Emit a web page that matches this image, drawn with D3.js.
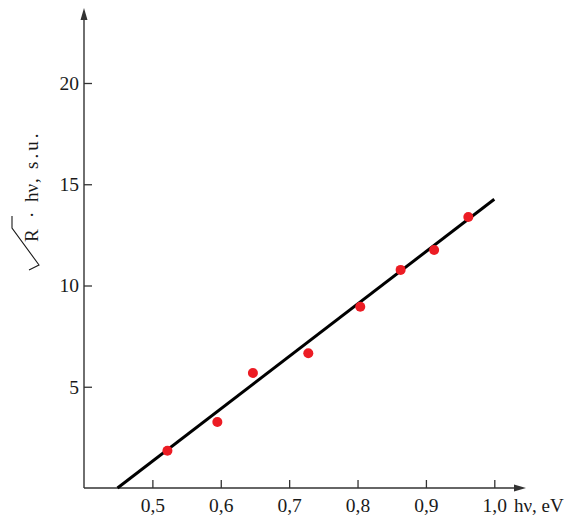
<!DOCTYPE html>
<html>
<head>
<meta charset="utf-8">
<script src="https://cdnjs.cloudflare.com/ajax/libs/d3/7.8.5/d3.min.js"></script>
<style>
  body { margin: 0; background: #fff; }
  svg { display: block; }
</style>
</head>
<body>
<svg width="572" height="522"></svg>
<script>
// Measured points (photon energy, sqrt(R)*hv)
let hvValues = [0.522, 0.595, 0.647, 0.728, 0.804, 0.863, 0.912, 0.962];
let rValues = [1.84, 3.26, 5.68, 6.65, 8.95, 10.77, 11.75, 13.38];

// Linear fit endpoints
let fitX = [0.449, 1.0];
let fitY = [0, 14.26];

// Tick values and labels
let xTicks = [0.5, 0.6, 0.7, 0.8, 0.9, 1.0];
let xTickLabels = ['0,5', '0,6', '0,7', '0,8', '0,9', '1,0'];
let yTicks = [5, 10, 15, 20];
let yTickLabels = ['5', '10', '15', '20'];

let svg = d3.select('svg');
let font = '"Liberation Serif", "Times New Roman", serif';
let axisColor = '#333';
let textColor = '#1a1a1a';

let x = d3.scaleLinear().domain([0.4, 1.0]).range([84, 494.3]);
let y = d3.scaleLinear().domain([0, 20]).range([488, 83]);

// Axis lines with arrow heads
svg.append('line')
    .attr('x1', x(0.4)).attr('y1', y(0))
    .attr('x2', 518).attr('y2', y(0))
    .attr('stroke', axisColor).attr('stroke-width', 1.4);
svg.append('path')
    .attr('d', 'M526,' + y(0) + 'L514,' + (y(0) - 3.5) + 'L514,' + (y(0) + 3.5) + 'Z')
    .attr('fill', axisColor);

svg.append('line')
    .attr('x1', x(0.4)).attr('y1', y(0))
    .attr('x2', x(0.4)).attr('y2', 18)
    .attr('stroke', axisColor).attr('stroke-width', 1.4);
svg.append('path')
    .attr('d', 'M' + x(0.4) + ',8L' + (x(0.4) - 3.5) + ',20L' + (x(0.4) + 3.5) + ',20Z')
    .attr('fill', axisColor);

// Ticks point inward
let xAxis = svg.append('g')
    .attr('transform', 'translate(0,' + y(0) + ')')
    .call(d3.axisBottom(x).tickValues(xTicks).tickSizeInner(-8).tickSizeOuter(0).tickPadding(10)
        .tickFormat((d, i) => xTickLabels[i]));

let yAxis = svg.append('g')
    .attr('transform', 'translate(' + x(0.4) + ',0)')
    .call(d3.axisLeft(y).tickValues(yTicks).tickSizeInner(-8).tickSizeOuter(0).tickPadding(5)
        .tickFormat((d, i) => yTickLabels[i]));

[xAxis, yAxis].forEach(g => {
    g.select('.domain').remove();
    g.selectAll('line').attr('stroke', axisColor).attr('stroke-width', 1.3);
    g.selectAll('text')
        .attr('fill', textColor)
        .style('font-family', font)
        .style('font-size', '19.5px');
});

// Fit line
let line = d3.line()
    .x((d, i) => x(fitX[i]))
    .y((d, i) => y(fitY[i]));
svg.append('path')
    .datum(fitX)
    .attr('d', line)
    .attr('fill', 'none')
    .attr('stroke', '#000')
    .attr('stroke-width', 3);

// Data points
svg.selectAll('circle.pt')
    .data(hvValues)
    .enter().append('circle')
    .attr('class', 'pt')
    .attr('cx', d => x(d))
    .attr('cy', (d, i) => y(rValues[i]))
    .attr('r', 5)
    .attr('fill', '#ec1c24');

// Axis labels
svg.append('text')
    .attr('x', 514)
    .attr('y', 512)
    .attr('fill', textColor)
    .style('font-family', font)
    .style('font-size', '19px')
    .text('hν, eV');

let yLabel = svg.append('g')
    .attr('transform', 'translate(38,262)rotate(-90)')
    .style('font-family', font)
    .style('font-size', '19px')
    .attr('fill', textColor);
yLabel.append('path')
    .attr('d', 'M-8,-9L-3,1L34,-26L46,-26')
    .attr('fill', 'none')
    .attr('stroke', textColor)
    .attr('stroke-width', 1.1);
let yText = yLabel.append('text').attr('y', 0);
yText.append('tspan').attr('x', 20).text('R');
yText.append('tspan').attr('x', 44).text('·');
yText.append('tspan').attr('x', 60).text('hν');
yText.append('tspan').attr('x', 79).text(',');
yText.append('tspan').attr('x', 93).style('letter-spacing', '3px').text('s.u.');
</script>
</body>
</html>
